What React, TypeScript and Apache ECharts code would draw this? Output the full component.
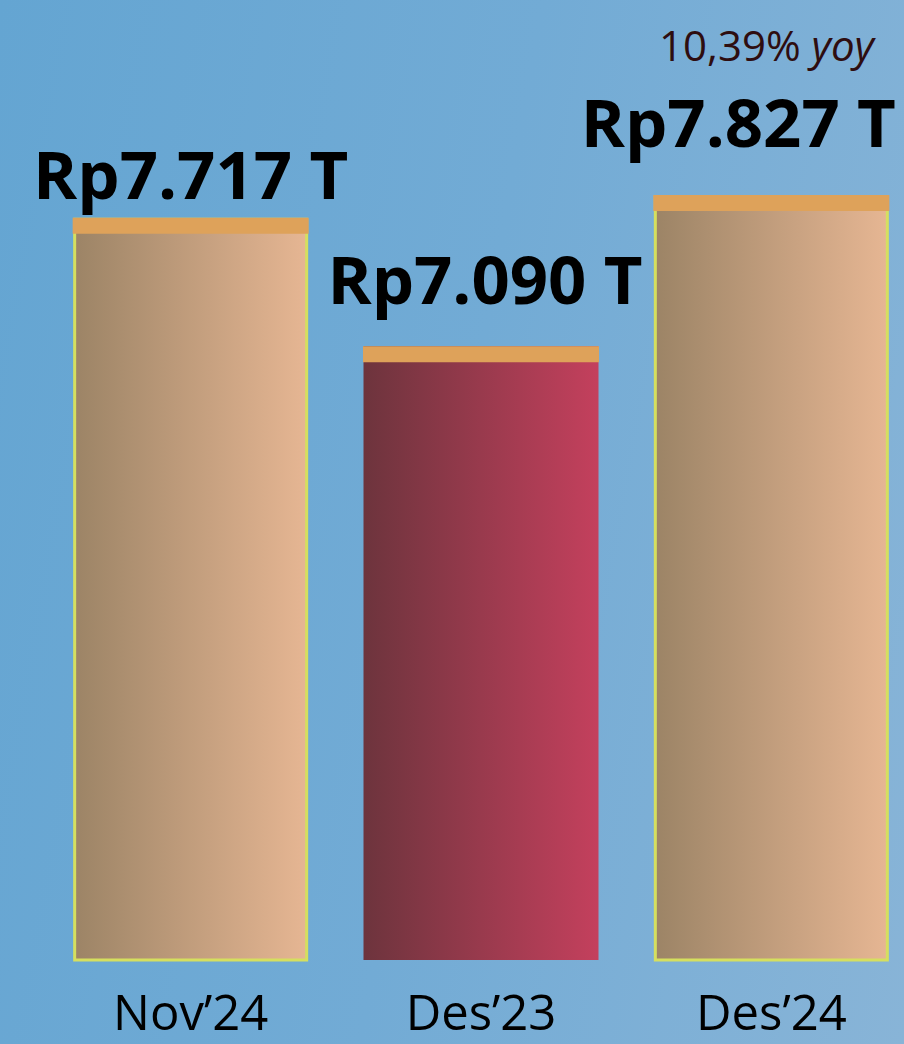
import React, { useEffect, useRef } from "react";
import * as echarts from "echarts";

const categories = ["Nov’24", "Des’23", "Des’24"];
const values = [7717, 7090, 7827];
const valueLabels = ["Rp7.717 T", "Rp7.090 T", "Rp7.827 T"];
const yoyValue = "10,39%";
const yoySuffix = "yoy";

const FONT = "'Open Sans', 'Noto Sans', sans-serif";

const tanGrad = () =>
  new echarts.graphic.LinearGradient(0, 0, 1, 0, [
    { offset: 0, color: "#9c8466" },
    { offset: 1, color: "#e6b693" },
  ]);
const redGrad = () =>
  new echarts.graphic.LinearGradient(0, 0, 1, 0, [
    { offset: 0, color: "#6d343d" },
    { offset: 1, color: "#c4405d" },
  ]);

const barStyles = [
  { color: tanGrad(), borderColor: "#d5df5f", borderWidth: 3 },
  { color: redGrad(), borderWidth: 0 },
  { color: tanGrad(), borderColor: "#d5df5f", borderWidth: 3 },
];
const labelPlacement = [
  { distance: 12, offset: [0, 0] },
  { distance: 35, offset: [4, 0] },
  { distance: 41, offset: [-33, 0] },
];

export default function App() {
  const ref = useRef<HTMLDivElement>(null);
  useEffect(() => {
    if (!ref.current) return;
    const chart = echarts.init(ref.current, undefined, { renderer: "svg" });
    chart.setOption({
      animation: false,
      backgroundColor: "transparent",
      grid: { left: 45.5, width: 871, top: 57, bottom: 84, containLabel: false },
      xAxis: {
        type: "category",
        data: categories,
        axisLine: { show: false },
        axisTick: { show: false },
        axisLabel: {
          color: "#000",
          fontFamily: FONT,
          fontSize: 49,
          lineHeight: 40,
          margin: 31,
        },
      },
      yAxis: {
        type: "value",
        min: 4100,
        max: 8500,
        show: false,
        splitLine: { show: false },
      },
      series: [
        {
          type: "bar",
          barWidth: 235,
          z: 2,
          data: values.map((v, i) => ({
            value: v,
            itemStyle: barStyles[i],
            label: {
              show: true,
              position: "top",
              distance: labelPlacement[i].distance,
              offset: labelPlacement[i].offset,
              formatter: valueLabels[i],
              color: "#000",
              fontFamily: FONT,
              fontWeight: "bold",
              fontSize: 67,
              lineHeight: 66,
            },
          })),
        },
        {
          type: "pictorialBar",
          symbol: "rect",
          symbolSize: [236, 16],
          symbolPosition: "end",
          barWidth: 235,
          z: 3,
          itemStyle: { color: "#dea25a" },
          data: values,
        },
      ],
      graphic: [
        {
          type: "text",
          left: 659,
          top: 23,
          style: {
            text: `{a|${yoyValue}\u00a0}{b|${yoySuffix}}`,
            rich: {
              a: { fontFamily: FONT, fontSize: 42, fill: "#2e0d10", color: "#2e0d10" },
              b: {
                fontFamily: FONT,
                fontSize: 42,
                fontStyle: "italic",
                fill: "#2e0d10",
                color: "#2e0d10",
              },
            },
          },
        },
      ],
    });
    return () => chart.dispose();
  }, []);
  return (
    <div
      style={{
        position: "absolute",
        left: 0,
        top: 0,
        width: 904,
        height: 1044,
        overflow: "hidden",
        background:
          "linear-gradient(100deg, #64a5d2 0%, #72abd5 50%, #88b4d7 100%)",
      }}
    >
      <div ref={ref} style={{ width: 940, height: 1044 }} />
    </div>
  );
}
